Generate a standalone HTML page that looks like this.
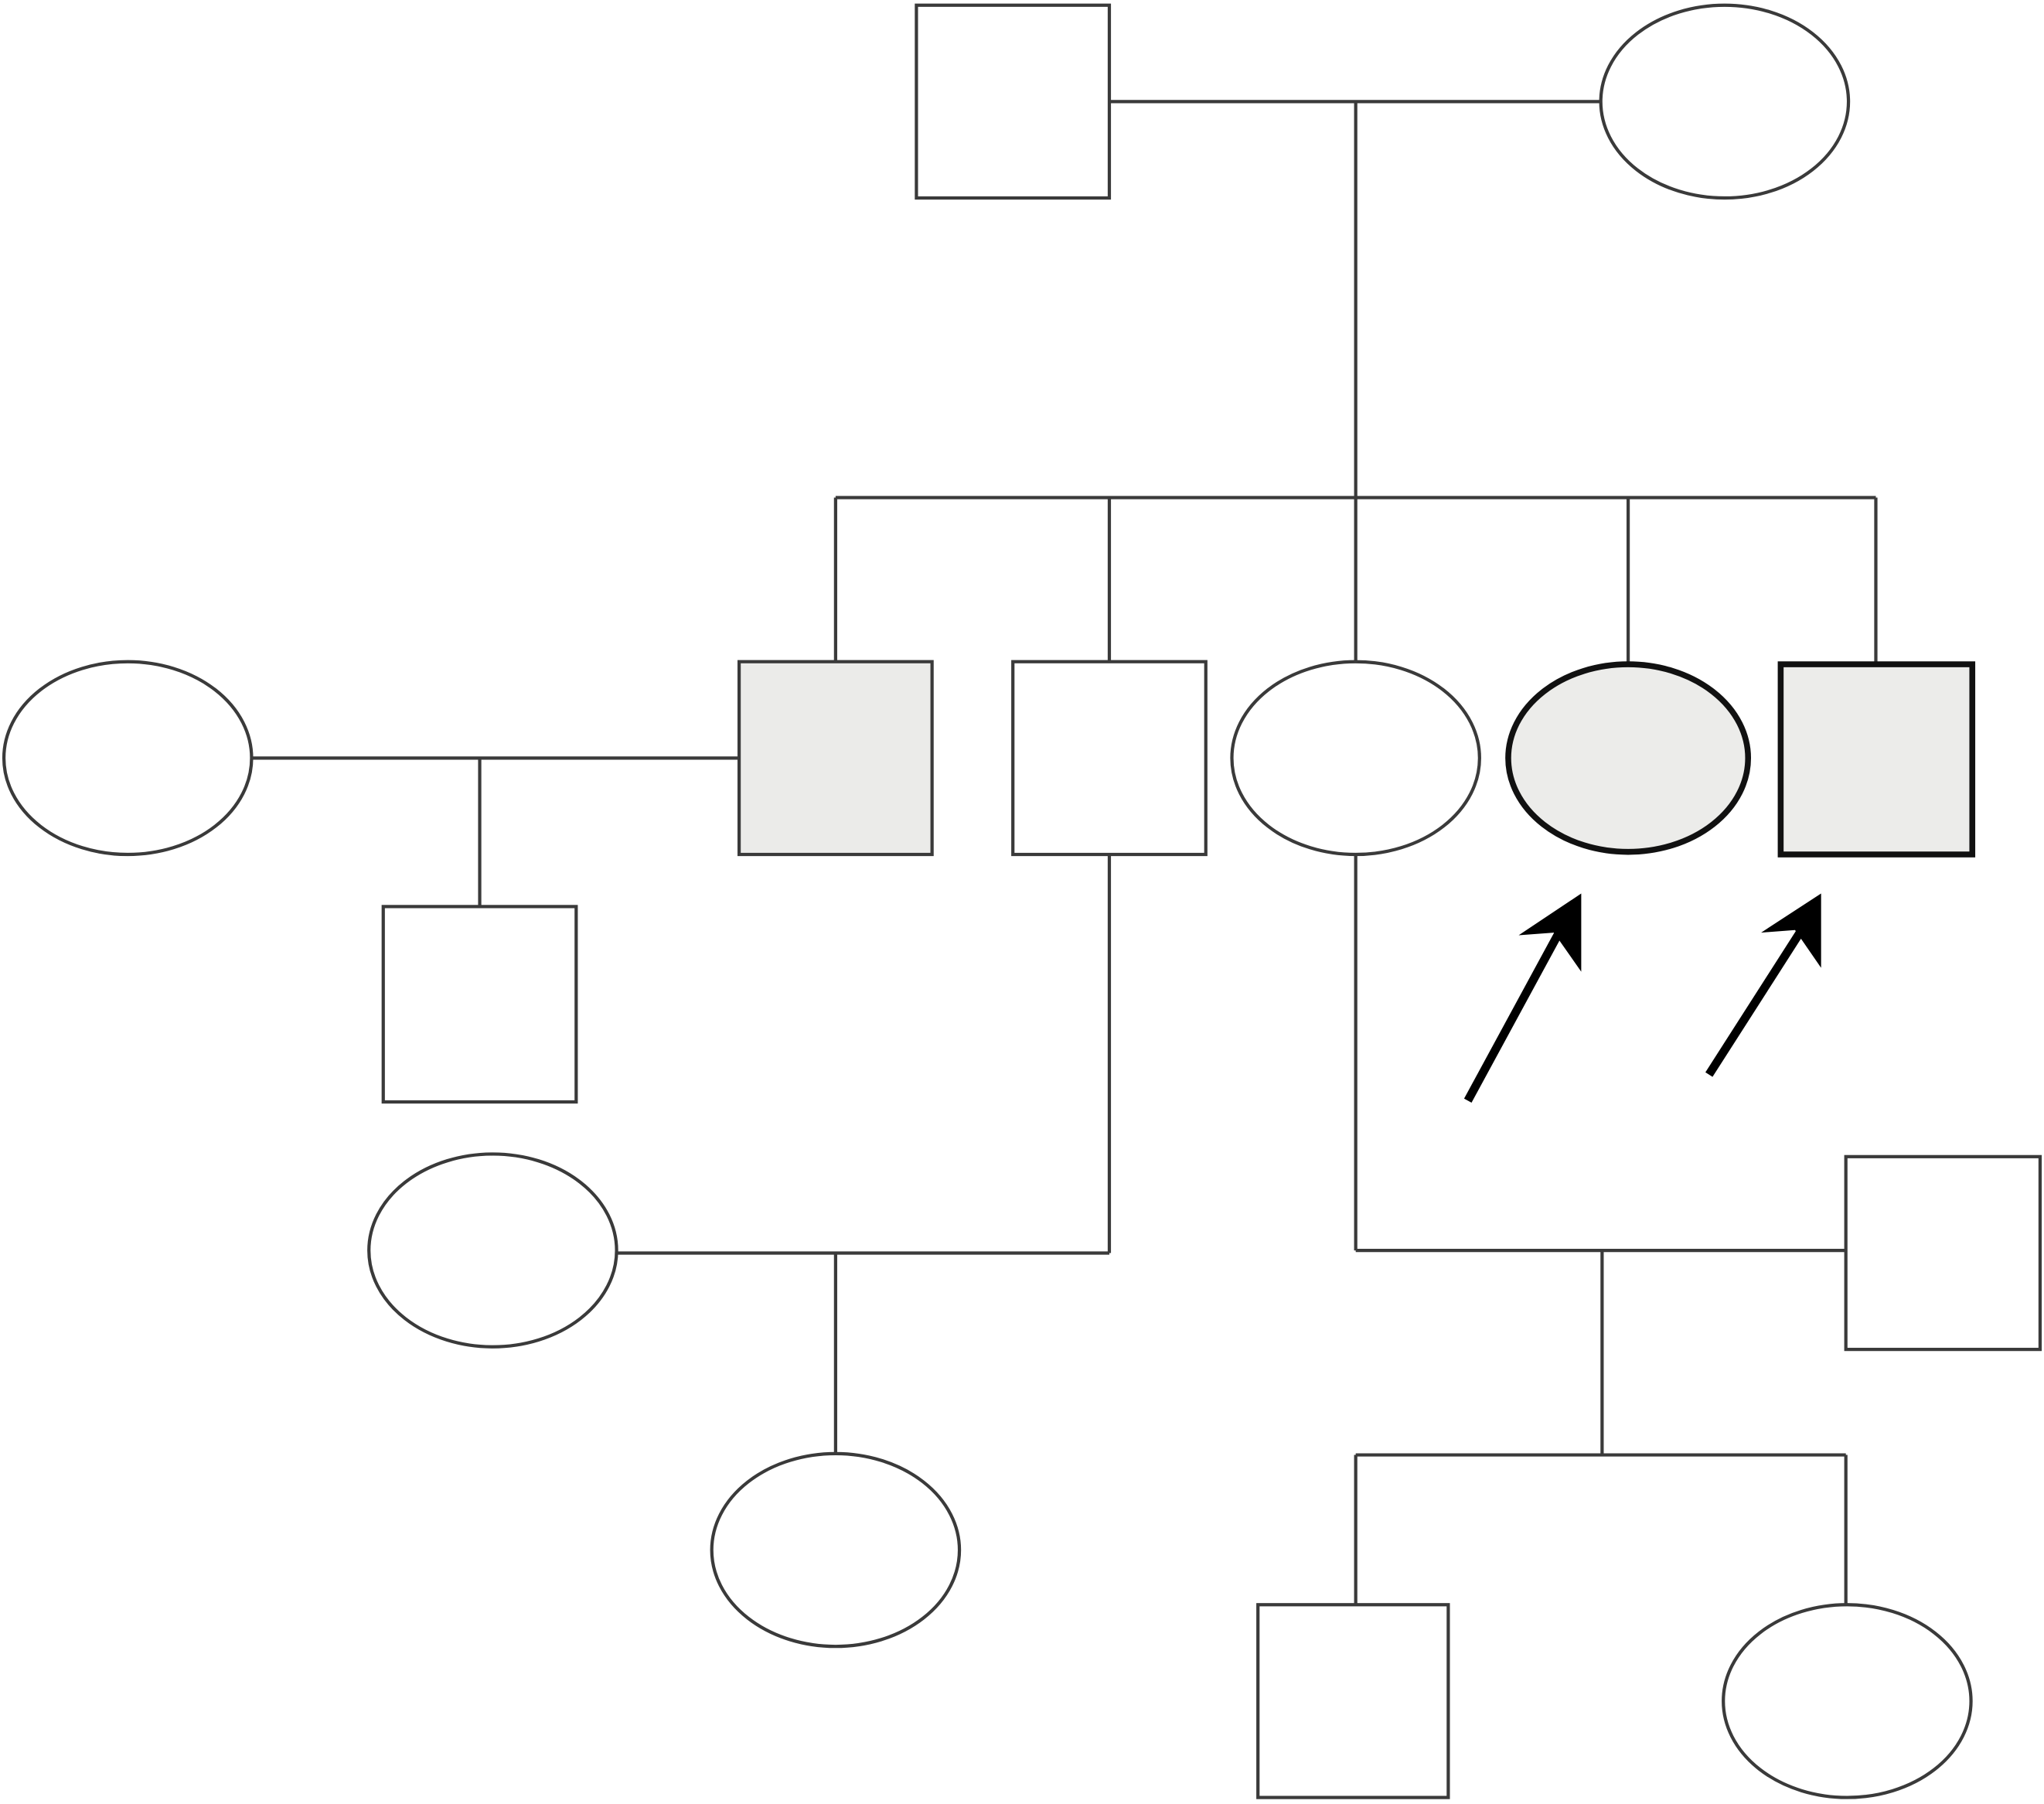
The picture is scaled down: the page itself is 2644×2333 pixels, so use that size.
<!DOCTYPE html>
<html><head><style>html,body{margin:0;padding:0;background:#fff}svg{display:block}</style></head>
<body>
<svg width="2644" height="2333" viewBox="0 0 1568 1385" preserveAspectRatio="none" xmlns="http://www.w3.org/2000/svg">
<g fill="none" stroke="#3a3a3a" stroke-width="2.5">
<rect x="703" y="4" width="148" height="148" fill="#fff"/>
<ellipse cx="1323" cy="78" rx="95" ry="74" fill="#fff"/>
<line x1="851" y1="78" x2="1228" y2="78"/>
<line x1="1040" y1="78" x2="1040" y2="508"/>
<line x1="641" y1="382" x2="1439" y2="382"/>
<line x1="641" y1="382" x2="641" y2="508"/>
<line x1="851" y1="382" x2="851" y2="508"/>
<line x1="1249" y1="382" x2="1249" y2="508"/>
<line x1="1439" y1="382" x2="1439" y2="508"/>
<rect x="567" y="508" width="148" height="148" fill="#ebebe9"/>
<rect x="777" y="508" width="148" height="148" fill="#fff"/>
<ellipse cx="1040" cy="582" rx="95" ry="74" fill="#fff"/>
<ellipse cx="98" cy="582" rx="95" ry="74" fill="#fff"/>
<line x1="193" y1="582" x2="567" y2="582"/>
<line x1="368" y1="582" x2="368" y2="696"/>
<rect x="294" y="696" width="148" height="150" fill="#fff"/>
<line x1="851" y1="656" x2="851" y2="962"/>
<line x1="473" y1="962" x2="851" y2="962"/>
<ellipse cx="378" cy="960" rx="95" ry="74" fill="#fff"/>
<line x1="641" y1="962" x2="641" y2="1117"/>
<ellipse cx="641" cy="1190" rx="95" ry="74" fill="#fff"/>
<line x1="1040" y1="656" x2="1040" y2="960"/>
<line x1="1040" y1="960" x2="1416" y2="960"/>
<rect x="1416" y="888" width="149" height="148" fill="#fff"/>
<line x1="1229" y1="960" x2="1229" y2="1117"/>
<line x1="1040" y1="1117" x2="1416" y2="1117"/>
<line x1="1040" y1="1117" x2="1040" y2="1232"/>
<line x1="1416" y1="1117" x2="1416" y2="1232"/>
<rect x="965" y="1232" width="146" height="148" fill="#fff"/>
<ellipse cx="1417" cy="1306" rx="95" ry="74" fill="#fff"/>
</g>
<g stroke="#111" stroke-width="4.5">
<ellipse cx="1249" cy="582" rx="92" ry="72" fill="#ececea"/>
<rect x="1366" y="510" width="147" height="146" fill="#ececea"/>
</g>
<g stroke="#000" stroke-width="6.5" fill="#000">
<line x1="1126" y1="845" x2="1197" y2="714"/>
<line x1="1311" y1="825" x2="1382" y2="714"/>
</g>
<g fill="#000">
<polygon points="1213,686 1213,746 1192,716 1165,718"/>
<polygon points="1397,686 1397,743 1377,714 1351,716"/>
</g>
</svg>
</body></html>
